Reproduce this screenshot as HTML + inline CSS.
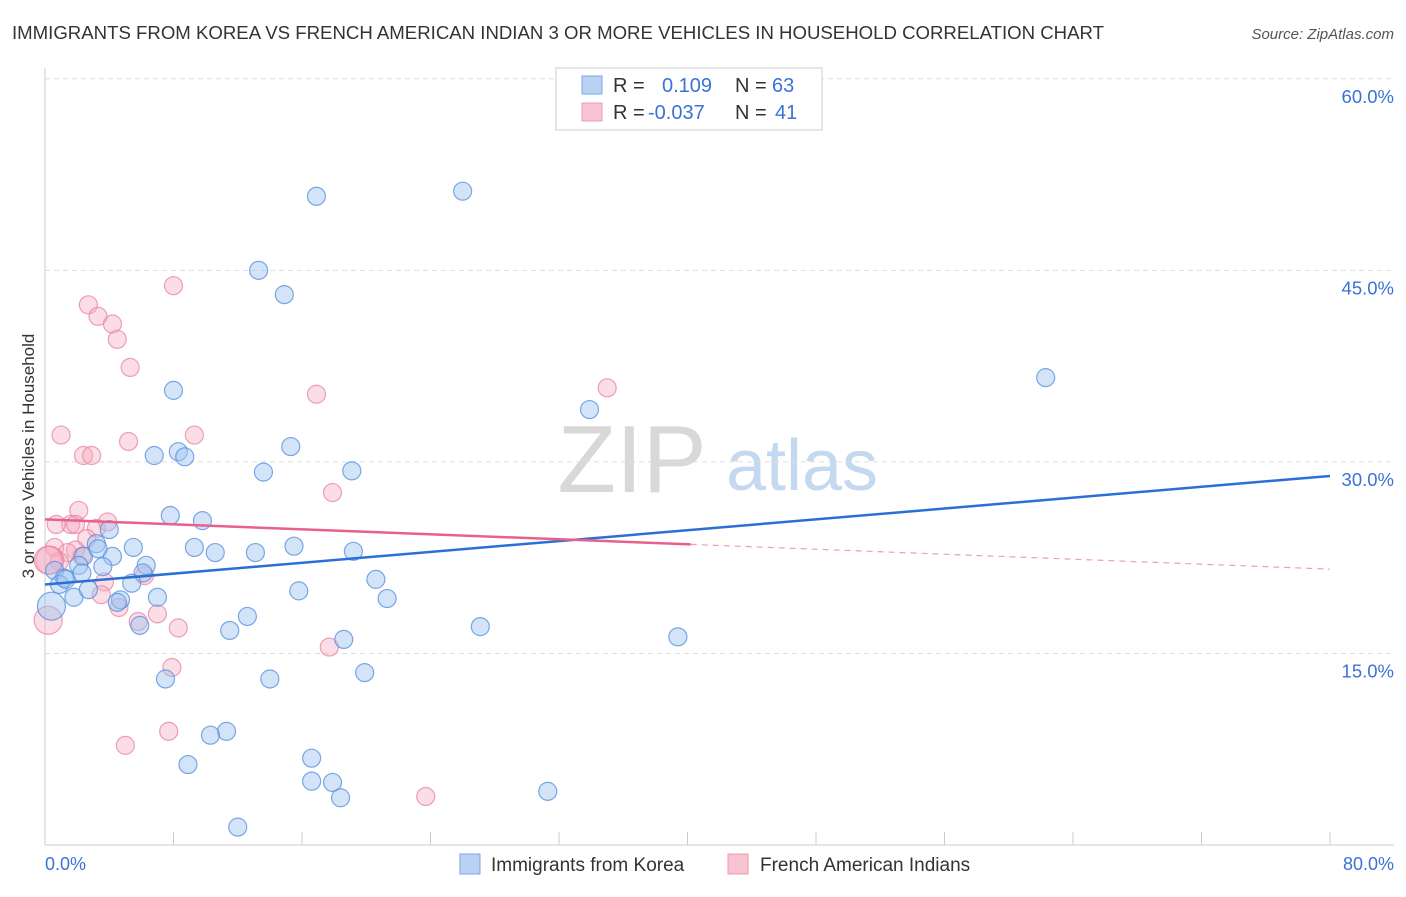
<!DOCTYPE html>
<html><head><meta charset="utf-8"><style>
body{margin:0;background:#fff;font-family:"Liberation Sans",sans-serif;}
svg text{font-family:"Liberation Sans",sans-serif;}
</style></head><body>
<svg id="chart" width="1406" height="892">
<text x="12" y="39" font-size="18" fill="#333" textLength="1092" lengthAdjust="spacingAndGlyphs">IMMIGRANTS FROM KOREA VS FRENCH AMERICAN INDIAN 3 OR MORE VEHICLES IN HOUSEHOLD CORRELATION CHART</text>
<text x="1394" y="39" font-size="15" fill="#555" font-style="italic" text-anchor="end">Source: ZipAtlas.com</text>
<g>
<text x="632" y="492" font-size="96" fill="#d8d8d8" font-family="Liberation Serif,serif" text-anchor="middle">ZIP</text>
<text x="802" y="490" font-size="72" fill="#c4d8f0" text-anchor="middle">atlas</text>
</g>
<g id="grid"></g>
<g id="marks"></g>
<text x="34" y="456" font-size="17" fill="#333" text-anchor="middle" transform="rotate(-90 34 456)">3 or more Vehicles in Household</text>
<text x="45" y="870" font-size="18" fill="#3a72d8">0.0%</text>
<text x="1394" y="870" font-size="18" fill="#3a72d8" text-anchor="end">80.0%</text>
<g>
<rect x="556" y="68" width="266" height="62" fill="#fff" stroke="#ccc"/>
<rect x="582" y="76" width="20" height="18" fill="#b9d1f3" stroke="#7aa6e6"/>
<rect x="582" y="103" width="20" height="18" fill="#f8c4d2" stroke="#eb9ab2"/>
<text x="613" y="92" font-size="20" fill="#333">R =</text>
<text x="662" y="92" font-size="20" fill="#3a72d8">0.109</text>
<text x="735" y="92" font-size="20" fill="#333">N =</text>
<text x="772" y="92" font-size="20" fill="#3a72d8">63</text>
<text x="613" y="119" font-size="20" fill="#333">R =</text>
<text x="648" y="119" font-size="20" fill="#3a72d8">-0.037</text>
<text x="735" y="119" font-size="20" fill="#333">N =</text>
<text x="775" y="119" font-size="20" fill="#3a72d8">41</text>
</g>
<g>
<rect x="460" y="854" width="20" height="20" fill="#b9d1f3" stroke="#7aa6e6"/>
<text x="491" y="871" font-size="19" fill="#333">Immigrants from Korea</text>
<rect x="728" y="854" width="20" height="20" fill="#f8c4d2" stroke="#eb9ab2"/>
<text x="760" y="871" font-size="19" fill="#333">French American Indians</text>
</g>
</svg>
<script>
const yTicks=[15,30,45,60];
const xTicks=[0,10,20,30,40,50,60,70,80];
const koreaX=[16.9,26.0,13.3,14.9,8.0,62.3,33.9,15.3,6.8,8.3,8.7,13.6,19.1,7.8,9.8,4.0,3.2,5.5,9.3,15.5,19.2,4.2,10.6,13.1,2.4,6.3,3.6,2.1,0.6,1.2,2.3,6.1,5.4,20.6,0.9,1.8,2.7,7.0,4.7,4.5,15.8,21.3,0.4,12.6,5.9,11.5,27.1,18.6,39.4,19.9,7.5,14.0,11.3,10.3,16.6,8.9,16.6,17.9,18.4,31.3,12.0,3.3,1.3];
const koreaY=[50.8,51.2,45.0,43.1,35.6,36.6,34.1,31.2,30.5,30.8,30.4,29.2,29.3,25.8,25.4,24.7,23.6,23.3,23.3,23.4,23.0,22.6,22.9,22.9,22.6,21.9,21.8,21.9,21.5,20.9,21.3,21.3,20.5,20.8,20.4,19.4,20.0,19.4,19.2,19.0,19.9,19.3,18.7,17.9,17.2,16.8,17.1,16.1,16.3,13.5,13.0,13.0,8.9,8.6,6.8,6.3,5.0,4.9,3.7,4.2,1.4,23.2,20.8];
const frenchX=[8.0,2.7,3.3,4.2,4.5,5.3,16.9,35.0,1.0,5.2,9.3,2.4,2.9,17.9,2.1,1.6,0.7,1.9,3.2,3.9,2.6,0.6,1.9,1.4,2.3,0.9,0.3,3.7,6.2,5.8,7.0,8.3,4.6,3.5,0.2,7.9,17.7,5.0,7.7,23.7,0.2];
const frenchY=[43.8,42.3,41.4,40.8,39.6,37.4,35.3,35.8,32.1,31.6,32.1,30.5,30.5,27.6,26.2,25.1,25.1,25.1,24.8,25.3,24.0,23.3,23.1,22.9,22.6,22.2,22.3,20.6,21.1,17.5,18.1,17.0,18.6,19.6,17.6,13.9,15.5,7.8,8.9,3.8,22.3];
const koreaTrend=[20.4,28.9];
const frenchTrend=[25.5,21.6];
const frenchSolidEnd=40.2;
const X=v=>45+v*(1285/80);
const Y=v=>845-v*12.77;
const NS='http://www.w3.org/2000/svg';
function mk(t,a,p){const e=document.createElementNS(NS,t);for(const k in a)e.setAttribute(k,a[k]);p.appendChild(e);return e;}
const grid=document.getElementById('grid'),marks=document.getElementById('marks');
yTicks.forEach(v=>{
 const l=mk('line',{x1:45,x2:1394,y1:Y(v),y2:Y(v),stroke:'#ddd','stroke-dasharray':'5,4'},grid);
 
 
 const t=mk('text',{x:1394,y:Y(v)+24,'font-size':18.5,fill:'#3a72d8','text-anchor':'end'},grid);
 t.textContent=v.toFixed(1)+'%';
 
 
});
const ax=mk('line',{x1:45,x2:1394,y1:845,y2:845,stroke:'#ccc'},grid);


const ay=mk('line',{x1:45,x2:45,y1:68,y2:845,stroke:'#ccc'},grid);


for(let i=0;i<=10;i++){const v=i*8;
 const t=mk('line',{x1:X(v),x2:X(v),y1:832,y2:845,stroke:'#ccc'},grid);
 
 
}
function pts(xs,ys,fill,stroke,name){
 xs.forEach((x,i)=>{
  const r=(x<0.5)?14:9;
  const c=mk('circle',{cx:X(x),cy:Y(ys[i]),r:r,fill:fill,stroke:stroke,'stroke-width':1.2},marks);
  
  
 });
}
pts(frenchX,frenchY,'rgba(245,170,192,0.4)','rgba(232,130,160,0.75)','french-point');
pts(koreaX,koreaY,'rgba(160,195,240,0.45)','rgba(80,140,220,0.75)','korea-point');
const kt=mk('line',{x1:X(0),y1:Y(koreaTrend[0]),x2:X(80),y2:Y(koreaTrend[1]),stroke:'#2b6fd6','stroke-width':2.5},marks);


const fy=v=>frenchTrend[0]+(frenchTrend[1]-frenchTrend[0])*v/80;
const ft=mk('line',{x1:X(0),y1:Y(fy(0)),x2:X(frenchSolidEnd),y2:Y(fy(frenchSolidEnd)),stroke:'#e8608e','stroke-width':2.5},marks);


const fd=mk('line',{x1:X(frenchSolidEnd),y1:Y(fy(frenchSolidEnd)),x2:X(80),y2:Y(fy(80)),stroke:'#eaa0b8','stroke-width':1.2,'stroke-dasharray':'6,5'},marks);


</script>
</body></html>
